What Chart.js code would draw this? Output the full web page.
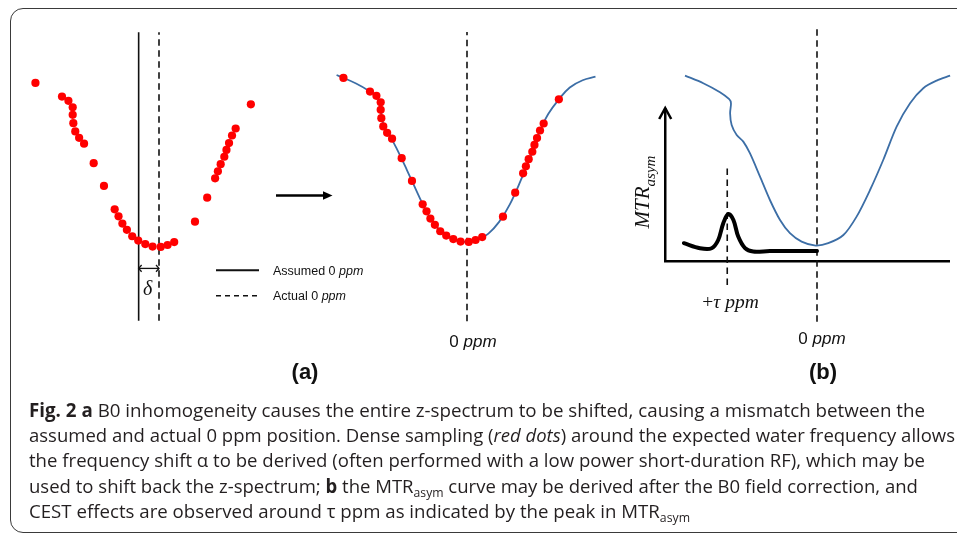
<!DOCTYPE html>
<html><head><meta charset="utf-8">
<script src="https://cdn.jsdelivr.net/npm/chart.js@4.4.1/dist/chart.umd.min.js"></script>
<style>
html,body{margin:0;padding:0;width:957px;height:535px;overflow:hidden;background:#fff;}
#stage{position:relative;width:957px;height:535px;}
canvas{position:absolute;}
.frame{position:absolute;left:10px;top:8px;width:990px;height:525px;border:1.5px solid #3a3a3a;border-radius:13px;box-sizing:border-box;}
.lbl{position:absolute;white-space:nowrap;transform:translate(-50%,-50%);line-height:1;color:#111;}
.lft{position:absolute;white-space:nowrap;line-height:1;color:#111;transform:translateY(-50%);}
.sans{font-family:"Liberation Sans",Arial,sans-serif;}
.serif{font-family:"Liberation Serif","DejaVu Serif",serif;}
.cap{position:absolute;left:29px;white-space:nowrap;font-family:"Open Sans",sans-serif;font-size:19px;line-height:26px;color:#231f20;transform-origin:0 50%;}
.cap sub{font-size:12.5px;vertical-align:-4px;line-height:0}
svg{position:absolute;left:0;top:0;}
</style></head>
<body><div id="stage">
<div class="frame"></div>
<canvas id="aLeft" width="308" height="320" style="left:5px;top:25px;width:308px;height:320px"></canvas>
<canvas id="aRight" width="308" height="320" style="left:313px;top:20px;width:308px;height:320px"></canvas>
<canvas id="bChart" width="317" height="325" style="left:640px;top:20px;width:317px;height:325px"></canvas>
<svg width="957" height="535">
  <line x1="216" y1="270.3" x2="259" y2="270.3" stroke="#111" stroke-width="2"/>
  <line x1="216" y1="295.7" x2="259" y2="295.7" stroke="#111" stroke-width="1.6" stroke-dasharray="5,4"/>
  <line x1="276" y1="195.5" x2="326" y2="195.5" stroke="#000" stroke-width="2.6"/>
  <polygon points="323,191.3 332.5,195.5 323,199.7" fill="#000"/>
</svg>
<div class="lft sans" style="left:273px;top:270.5px;font-size:12.5px">Assumed 0 <i>ppm</i></div>
<div class="lft sans" style="left:273px;top:296px;font-size:12.5px">Actual 0 <i>ppm</i></div>
<div class="lbl serif" style="left:147.7px;top:288px;font-size:20px"><i>δ</i></div>
<div class="lbl sans" style="left:473px;top:341px;font-size:17px">0 <i>ppm</i></div>
<div class="lbl sans" style="left:822px;top:338px;font-size:17px">0 <i>ppm</i></div>
<div class="lbl sans" style="left:305px;top:372px;font-size:22px;font-weight:bold">(a)</div>
<div class="lbl sans" style="left:823px;top:372px;font-size:22px;font-weight:bold">(b)</div>
<div class="lbl serif" style="left:730.5px;top:302px;font-size:19.5px">+<i>τ ppm</i></div>
<div class="lbl serif" style="left:645px;top:192px;font-size:21px;transform:translate(-50%,-50%) rotate(-90deg)"><i>MTR<sub style="font-size:15px">asym</sub></i></div>
<div class="cap" style="top:396.5px"><b>Fig. 2</b> <b>a</b> B0 inhomogeneity causes the entire z-spectrum to be shifted, causing a mismatch between the</div>
<div class="cap" style="top:421.9px">assumed and actual 0 ppm position. Dense sampling (<i>red dots</i>) around the expected water frequency allows</div>
<div class="cap" style="top:447.3px">the frequency shift α to be derived (often performed with a low power short-duration RF), which may be</div>
<div class="cap" style="top:472.7px">used to shift back the z-spectrum; <b>b</b> the MTR<sub>asym</sub> curve may be derived after the B0 field correction, and</div>
<div class="cap" style="top:498.1px">CEST effects are observed around τ ppm as indicated by the peak in MTR<sub>asym</sub></div>
</div>
<script>
// ---- data (frequency offset in ppm, normalized signal) ----
const zPpm = [-5.77,-4.53,-4.23,-4.03,-4.03,-4.00,-3.91,-3.73,-3.50,-3.05,-2.57,-2.07,-1.89,-1.71,-1.50,-1.25,-0.97,-0.64,-0.30,0.08,0.40,0.71,1.68,2.25,2.62,2.75,2.88,3.05,3.15,3.27,3.41,3.58,4.29];
const zSignal = [0.874,0.804,0.782,0.749,0.710,0.667,0.625,0.592,0.562,0.462,0.345,0.225,0.189,0.152,0.120,0.087,0.065,0.047,0.034,0.032,0.042,0.057,0.162,0.285,0.384,0.420,0.457,0.495,0.530,0.565,0.604,0.640,0.764];
const fitPpm = [-6.09,-5.18,-4.53,-4.2,-4.05,-3.97,-3.85,-3.6,-3.3,-2.8,-2.3,-1.9,-1.5,-1.0,-0.5,0,0.5,1.0,1.5,2.0,2.5,3.0,3.4,3.8,4.3,4.8,5.4,6.0];
const fitSignal = [0.889,0.845,0.804,0.776,0.73,0.67,0.615,0.575,0.515,0.40,0.28,0.19,0.12,0.066,0.04,0.032,0.042,0.075,0.135,0.225,0.345,0.48,0.60,0.69,0.765,0.825,0.862,0.88];
const zbPpm = [6.0,5.17,4.41,3.99,3.91,3.95,3.88,3.65,3.35,3.05,2.59,2.14,1.68,1.23,0.70,0.06,-0.51,-1.2,-1.8,-2.41,-3.01,-3.62,-4.23,-4.83,-5.44,-6.05];
const zbSignal = [0.927,0.889,0.844,0.809,0.789,0.739,0.68,0.63,0.597,0.539,0.422,0.305,0.205,0.139,0.097,0.077,0.089,0.13,0.222,0.355,0.505,0.672,0.789,0.864,0.902,0.927];
const mtrPpm = [6.05,5.32,4.79,4.49,4.26,4.03,3.8,3.58,3.27,2.9,2.14,0];
const mtrValue = [0.089,0.064,0.064,0.105,0.189,0.235,0.205,0.122,0.064,0.047,0.05,0.05];
const deltaPpm = 0.95;
const tauPpm = 4.08;

const pts = (xs, ys) => xs.map((x, i) => ({x: x, y: ys[i]}));
const vline = (x, y0, y1) => [{x: x, y: y0}, {x: x, y: y1}];

function chevron(ctx, x, y, ang, s) {
  ctx.beginPath();
  ctx.moveTo(x - s * Math.cos(ang - 0.85), y - s * Math.sin(ang - 0.85));
  ctx.lineTo(x, y);
  ctx.lineTo(x - s * Math.cos(ang + 0.85), y - s * Math.sin(ang + 0.85));
  ctx.stroke();
}
const arrowPlugin = {
  id: 'arrowHeads',
  afterDatasetsDraw(chart) {
    const ctx = chart.ctx;
    chart.data.datasets.forEach((ds, i) => {
      if (!ds.arrowHeads) return;
      const d = chart.getDatasetMeta(i).data;
      const p0 = d[0], p1 = d[d.length - 1];
      ctx.save();
      ctx.strokeStyle = ds.borderColor; ctx.lineWidth = ds.borderWidth;
      chevron(ctx, p0.x, p0.y, Math.atan2(p0.y - p1.y, p0.x - p1.x), 4.5);
      chevron(ctx, p1.x, p1.y, Math.atan2(p1.y - p0.y, p1.x - p0.x), 4.5);
      ctx.restore();
    });
  }
};
const axisArrow = {
  id: 'axisArrow',
  afterDraw(chart) {
    const {left, top} = chart.chartArea;
    const ctx = chart.ctx;
    ctx.save();
    ctx.strokeStyle = '#000'; ctx.lineWidth = 2.5;
    ctx.beginPath();
    ctx.moveTo(left - 6, top + 10); ctx.lineTo(left, top - 1); ctx.lineTo(left + 6, top + 10);
    ctx.stroke();
    ctx.restore();
  }
};

Chart.defaults.animation = false;
function hiddenOpts(xmin, xmax, ymin, ymax) {
  return {
    responsive: false, maintainAspectRatio: false, animation: false,
    layout: {padding: 0},
    plugins: {legend: {display: false}, tooltip: {enabled: false}},
    scales: {
      x: {type: 'linear', display: false, min: xmin, max: xmax},
      y: {type: 'linear', display: false, min: ymin, max: ymax}
    }
  };
}
const dotSet = () => ({data: pts(zPpm, zSignal), pointRadius: 4.1, pointBackgroundColor: '#ff0000', pointBorderWidth: 0, showLine: false, order: 0});
const lineSet = (data, color, width, dash, extra) => Object.assign({data: data, showLine: true, borderColor: color, borderWidth: width, borderDash: dash || [], pointRadius: 0, order: 2}, extra || {});

new Chart(document.getElementById('aLeft'), {
  type: 'scatter',
  data: {datasets: [
    dotSet(),
    lineSet(vline(-deltaPpm, -0.3465, 1.1335), '#111', 1.6),
    lineSet(vline(0, -0.3465, 1.1335), '#111', 1.6, [6.5, 4.5]),
    lineSet([{x: -deltaPpm, y: -0.078}, {x: 0, y: -0.078}], '#111', 1.3, [], {arrowHeads: true})
  ]},
  options: hiddenOpts(-7, 7, -0.45, 1.15),
  plugins: [arrowPlugin]
});

new Chart(document.getElementById('aRight'), {
  type: 'scatter',
  data: {datasets: [
    dotSet(),
    lineSet(pts(fitPpm, fitSignal), '#3c6ea6', 1.8, [], {tension: 0.4, order: 1}),
    lineSet(vline(0, -0.375, 1.11), '#111', 1.6, [6.5, 4.5])
  ]},
  options: hiddenOpts(-7, 7, -0.45, 1.15)
});

const axisStyle = (min, max, rev) => ({
  type: 'linear', display: true, min: min, max: max, reverse: !!rev,
  ticks: {display: false}, grid: {display: false, drawTicks: false},
  border: {display: true, color: '#000', width: 2.5}
});
new Chart(document.getElementById('bChart'), {
  type: 'scatter',
  data: {datasets: [
    lineSet(pts(mtrPpm, mtrValue), '#000', 4, [], {tension: 0.35, order: 0, clip: false, borderCapStyle: 'round'}),
    lineSet(pts(zbPpm, zbSignal), '#3c6ea6', 1.8, [], {tension: 0.3, order: 1, clip: false}),
    lineSet(vline(0, -0.3035, 1.165), '#111', 1.6, [6.5, 4.5], {clip: false}),
    lineSet(vline(tauPpm, -0.12, 0.4665), '#111', 1.6, [6.5, 4.5], {clip: false})
  ]},
  options: {
    responsive: false, maintainAspectRatio: false, animation: false,
    layout: {padding: {left: 25.2, top: 89, right: 8, bottom: 84}},
    plugins: {legend: {display: false}, tooltip: {enabled: false}},
    scales: {x: axisStyle(-6, 6.9, true), y: axisStyle(0, 0.76)}
  },
  plugins: [axisArrow]
});

// caption lines: fit each line to the reference line length
const capEnds = [925, 955, 925, 918, 690];
document.querySelectorAll('.cap').forEach((el, i) => {
  const w = el.getBoundingClientRect().width;
  el.style.transform = 'scaleX(' + ((capEnds[i] - 29) / w).toFixed(4) + ')';
});
</script>
</body></html>
